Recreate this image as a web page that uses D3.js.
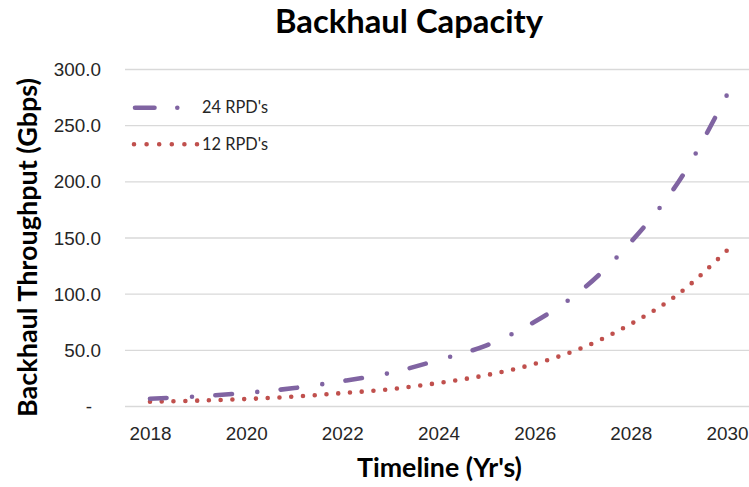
<!DOCTYPE html>
<html>
<head>
<meta charset="utf-8">
<script src="https://cdn.jsdelivr.net/npm/d3@7"></script>
<style>
  html, body { margin: 0; padding: 0; background: #fff; }
  svg { display: block; font-family: Lato, "Open Sans", sans-serif; }
</style>
</head>
<body>
<svg id="chart" width="749" height="487"></svg>
<script>
// Backhaul throughput per year, in Gbps
const years = [2018, 2019, 2020, 2021, 2022, 2023, 2024, 2025, 2026, 2027, 2028, 2029, 2030];
const rpd24 = [6.5, 8.6, 11.7, 16.0, 22.2, 29.5, 41, 54, 75, 104, 146, 200, 277];
const rpd12 = [3.8, 4.8, 6.2, 8.4, 11.5, 15.0, 20.5, 27.5, 37.5, 52, 73, 100, 138.5];
const seriesNames = ["24 RPD's", "12 RPD's"];
const xTicks = [2018, 2020, 2022, 2024, 2026, 2028, 2030];
const yTicks = [0, 50, 100, 150, 200, 250, 300];

const svg = d3.select("#chart");
const W = 749, H = 487;
const plotLeft = 125, plotRight = 749;

const x = d3.scaleLinear().domain([2018, 2030]).range([150, 727]);
const y = d3.scaleLinear().domain([0, 300]).range([406, 69]);

const purple = "#8064A2", red = "#C0504D", grid = "#D9D9D9", ink = "#262626";

// scale a text element's font size so its rendered width hits a target
function fitWidth(sel, target) {
  const w = sel.node().getComputedTextLength();
  const fs = parseFloat(sel.attr("font-size"));
  const size = fs * target / w;
  sel.attr("font-size", size);
  return size;
}

svg.append("rect").attr("width", W).attr("height", H).attr("fill", "#fff");

// y axis with full-width gridlines
const yAxis = svg.append("g")
  .attr("transform", `translate(${plotLeft},0)`)
  .call(d3.axisLeft(y)
    .tickValues(yTicks)
    .tickSize(-(plotRight - plotLeft))
    .tickPadding(24)
    .tickFormat(d => d === 0 ? "-" : d3.format(".1f")(d)));
yAxis.select(".domain").remove();
yAxis.selectAll(".tick line").attr("stroke", grid).attr("stroke-width", 1.4);
const yText = yAxis.selectAll(".tick text")
  .attr("fill", ink)
  .attr("font-size", 18)
  .attr("dy", "0.35em");
yText.filter(d => d === 0).attr("dx", -9);

// x axis labels
const xAxis = svg.append("g")
  .attr("transform", "translate(0,406)")
  .call(d3.axisBottom(x).tickValues(xTicks).tickSize(0).tickFormat(d3.format("d")));
xAxis.select(".domain").remove();
const xText = xAxis.selectAll(".tick text")
  .attr("fill", ink)
  .attr("font-size", 18)
  .attr("y", 34)
  .attr("dy", 0);
const tickSize = fitWidth(xText.filter(d => d === 2018), 42);
xText.attr("font-size", tickSize);
yText.attr("font-size", tickSize);

// series lines
const line = d3.line()
  .x(d => x(d[0]))
  .y(d => y(d[1]))
  .curve(d3.curveCatmullRom.alpha(0.5));

const p12 = svg.append("path")
  .datum(years.map((yr, i) => [yr, rpd12[i]]))
  .attr("d", line)
  .attr("fill", "none")
  .attr("stroke", red)
  .attr("stroke-width", 4.6)
  .attr("stroke-linecap", "round");

// round dots, spacing adjusted so a dot lands on each end of the line
{
  const L = p12.node().getTotalLength() - 1;
  const step = 11.8;
  const n = Math.round(L / step);
  p12.attr("stroke-dasharray", `0 ${L / n}`);
}

const p24 = svg.append("path")
  .datum(years.map((yr, i) => [yr, rpd24[i]]))
  .attr("d", line)
  .attr("fill", "none")
  .attr("stroke", purple)
  .attr("stroke-width", 4.6)
  .attr("stroke-linecap", "round");

// long-dash-dot pattern, stretched slightly so the line starts on a dash and ends on a dot
{
  const L = p24.node().getTotalLength() - 1;
  const dash = 16.5, gapA = 25.2, gapB = 23.3, period = dash + gapA + gapB;
  const n = Math.round((L - (dash + gapA)) / period);
  const s = L / (dash + gapA + n * period);
  p24.attr("stroke-dasharray", [dash * s, gapA * s, 0, gapB * s].join(" "));
}

// legend
const legend = svg.append("g");
legend.append("line")
  .attr("x1", 135).attr("x2", 178).attr("y1", 107.7).attr("y2", 107.7)
  .attr("stroke", purple).attr("stroke-width", 4.6)
  .attr("stroke-linecap", "round")
  .attr("stroke-dasharray", "19.5 22.8 0 100");
legend.append("line")
  .attr("x1", 134).attr("x2", 197.5).attr("y1", 144.3).attr("y2", 144.3)
  .attr("stroke", red).attr("stroke-width", 4.6)
  .attr("stroke-linecap", "round")
  .attr("stroke-dasharray", "0 12.6");
const leg1 = legend.append("text")
  .attr("x", 202).attr("y", 112.7)
  .attr("fill", ink).attr("font-size", 15)
  .text(seriesNames[0]);
const legSize = fitWidth(leg1, 66);
legend.append("text")
  .attr("x", 202).attr("y", 150)
  .attr("fill", ink).attr("font-size", legSize)
  .text(seriesNames[1]);

// titles
const title = svg.append("text")
  .attr("x", 409).attr("y", 33.3)
  .attr("text-anchor", "middle")
  .attr("font-weight", "bold")
  .attr("fill", "#000")
  .attr("font-size", 28)
  .text("Backhaul Capacity");
fitWidth(title, 268);

const xTitle = svg.append("text")
  .attr("x", 439.5).attr("y", 477)
  .attr("text-anchor", "middle")
  .attr("font-weight", "bold")
  .attr("fill", "#000")
  .attr("font-size", 20)
  .text("Timeline (Yr's)");
fitWidth(xTitle, 165);

const yTitle = svg.append("text")
  .attr("transform", "translate(37,247.5) rotate(-90)")
  .attr("text-anchor", "middle")
  .attr("font-weight", "bold")
  .attr("fill", "#000")
  .attr("font-size", 20)
  .text("Backhaul Throughput (Gbps)");
fitWidth(yTitle, 339);
</script>
</body>
</html>
